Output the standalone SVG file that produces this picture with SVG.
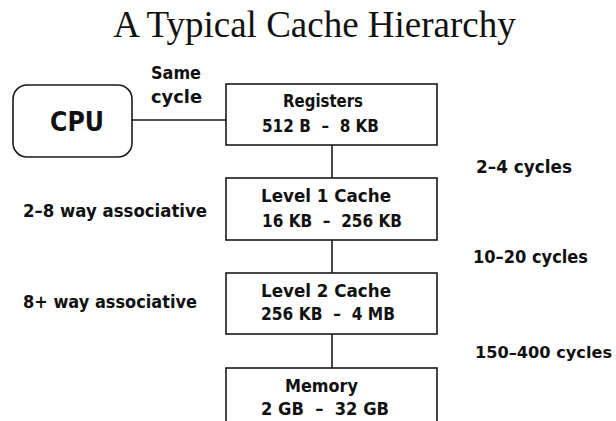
<svg xmlns="http://www.w3.org/2000/svg" width="616" height="421" viewBox="0 0 616 421">
<style>
.box{fill:#fff;stroke:#1a1a1a;stroke-width:1.6}
.ln{stroke:#1a1a1a;stroke-width:1.6;fill:none}
.t{font-family:"DejaVu Sans",Verdana,sans-serif;font-weight:bold;font-size:17.5px;fill:#111}
.title{font-family:"Liberation Serif","Times New Roman",serif;font-size:37px;fill:#111}
</style>
<rect width="616" height="421" fill="#fff"/>
<text class="title" x="314.5" y="37" text-anchor="middle">A Typical Cache Hierarchy</text>
<g id="connectors">
<line class="ln" x1="132" y1="120" x2="226" y2="120"/>
<line class="ln" x1="332" y1="145" x2="332" y2="178"/>
<line class="ln" x1="332" y1="240" x2="332" y2="273"/>
<line class="ln" x1="332" y1="334" x2="332" y2="368"/>
</g>
<g id="cpu">
<rect class="box" x="13" y="85" width="119" height="72" rx="14" ry="14"/>
<text class="t" x="50" y="131" style="font-size:26px" textLength="54" lengthAdjust="spacingAndGlyphs">CPU</text>
</g>
<g id="same-cycle">
<text class="t" x="151" y="79" textLength="50" lengthAdjust="spacingAndGlyphs">Same</text>
<text class="t" x="151" y="103" textLength="51" lengthAdjust="spacingAndGlyphs">cycle</text>
</g>
<g id="registers">
<rect class="box" x="226" y="84" width="211" height="61"/>
<text class="t" x="283" y="107" textLength="80" lengthAdjust="spacingAndGlyphs">Registers</text>
<text class="t" x="262" y="132" textLength="117" lengthAdjust="spacingAndGlyphs" xml:space="preserve">512 B  –  8 KB</text>
</g>
<g id="l1">
<rect class="box" x="226" y="178" width="211" height="62"/>
<text class="t" x="261" y="202" textLength="130" lengthAdjust="spacingAndGlyphs">Level 1 Cache</text>
<text class="t" x="262" y="227" textLength="140" lengthAdjust="spacingAndGlyphs" xml:space="preserve">16 KB  –  256 KB</text>
</g>
<g id="l2">
<rect class="box" x="226" y="273" width="211" height="61"/>
<text class="t" x="261" y="297" textLength="130" lengthAdjust="spacingAndGlyphs">Level 2 Cache</text>
<text class="t" x="261" y="320" textLength="134" lengthAdjust="spacingAndGlyphs" xml:space="preserve">256 KB  –  4 MB</text>
</g>
<g id="memory">
<rect class="box" x="226" y="368" width="211" height="70"/>
<text class="t" x="285" y="392" textLength="73" lengthAdjust="spacingAndGlyphs">Memory</text>
<text class="t" x="261" y="415" textLength="128" lengthAdjust="spacingAndGlyphs" xml:space="preserve">2 GB  –  32 GB</text>
</g>
<g id="labels">
<text class="t" x="476" y="173" textLength="96" lengthAdjust="spacingAndGlyphs">2–4 cycles</text>
<text class="t" x="473" y="263" textLength="115" lengthAdjust="spacingAndGlyphs">10–20 cycles</text>
<text class="t" x="475" y="358" style="font-size:16px" textLength="137" lengthAdjust="spacingAndGlyphs">150–400 cycles</text>
<text class="t" x="23" y="217" textLength="184" lengthAdjust="spacingAndGlyphs">2–8 way associative</text>
<text class="t" x="23" y="308" textLength="174" lengthAdjust="spacingAndGlyphs">8+ way associative</text>
</g>
</svg>
